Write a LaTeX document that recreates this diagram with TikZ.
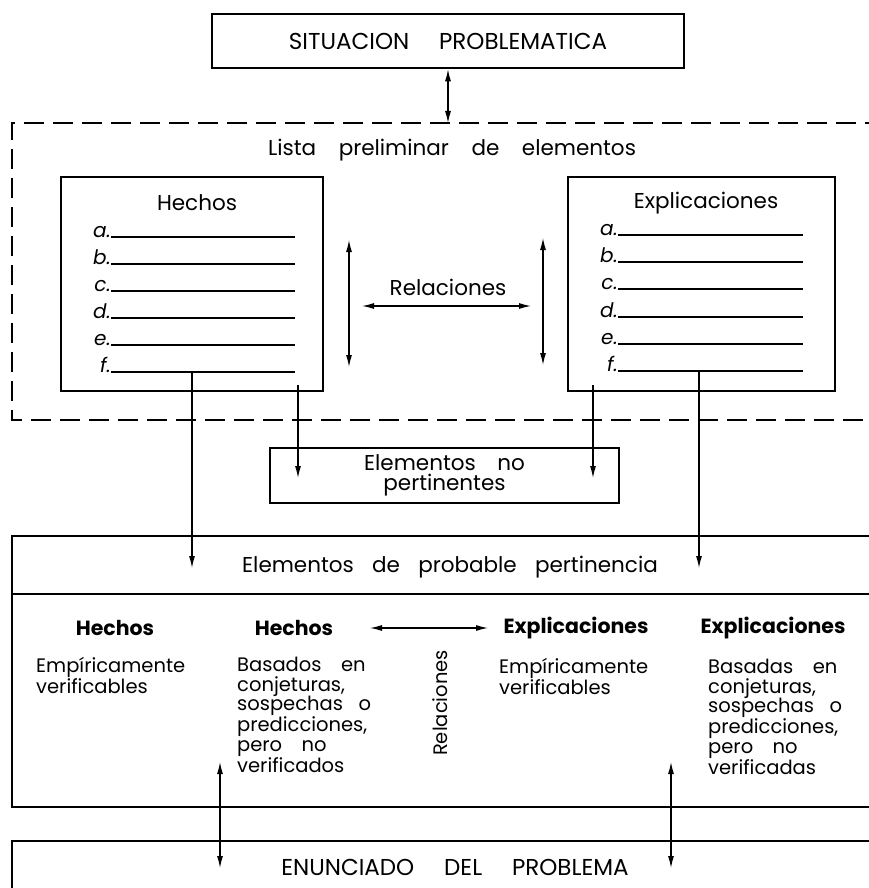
\documentclass[tikz,border=0pt]{standalone}
\usepackage{fontspec}
\setmainfont{Poppins}
\usetikzlibrary{arrows.meta}
\begin{document}
\begin{tikzpicture}[x=1pt,y=-1pt,
  boxline/.style={line width=2.6pt},
  conn/.style={line width=1.2pt,-{Latex[length=12pt,width=6pt]}},
  dconn/.style={line width=1.2pt,{Latex[length=12pt,width=6pt]}-{Latex[length=12pt,width=6pt]}},
  txt/.style={inner sep=0pt,font=\fontsize{19.5}{19.5}\selectfont},
  bigtxt/.style={inner sep=0pt,font=\fontsize{21.5}{20}\selectfont},
  captxt/.style={inner sep=0pt,font=\fontsize{23}{23}\selectfont},
  boldtxt/.style={inner sep=0pt,font=\bfseries\fontsize{20.5}{21}\selectfont},
  lbl/.style={inner sep=0pt,anchor=base east,font=\itshape\fontsize{20}{20}\selectfont},
  ruled/.style={line width=1.1pt},
  dashbox/.style={line width=2.4pt,dash pattern=on 20pt off 9pt}]
\useasboundingbox (0,0) rectangle (869,888);
\clip (0,0) rectangle (869,888);

% top box
\node[draw,boxline,minimum width=472pt,minimum height=54pt,inner sep=0pt,captxt] (sit) at (448,41) {SITUACION\hspace{1.3em}PROBLEMATICA};

% dashed region
\draw[dashbox] (885,123) -- (12,123) -- (12,420) -- (885,420);
\coordinate (dtop) at (448,123);
\draw[dconn] (sit.south) -- (dtop);
\node[bigtxt] (lista) at (452,150) {Lista\hspace{1.05em}preliminar\hspace{1.05em}de\hspace{1.05em}elementos};

% Hechos box
\node[draw,boxline,minimum width=262pt,minimum height=214pt,inner sep=0pt] (hbox) at (192,284) {};
\node[bigtxt] (htitle) at (197,203) {Hechos};
\foreach \l/\y in {a/237,b/264,c/291,d/318,e/345,f/372}{
  \node[lbl] (h\l) at (111,\y) {\l.};
  \draw[ruled] (h\l.base east) -- ++(184,0);
}
% Explicaciones box
\node[draw,boxline,minimum width=267pt,minimum height=214pt,inner sep=0pt] (ebox) at (701.5,284) {};
\node[bigtxt] (etitle) at (706,203) {Explicaciones};
\foreach \l/\y in {a/235,b/262,c/289,d/317,e/344,f/371}{
  \node[lbl] (e\l) at (618,\y) {\l.};
  \draw[ruled] (e\l.base east) -- ++(185,0);
}

% relations between lists
\coordinate (v1t) at (349,240); \coordinate (v1b) at (349,367);
\coordinate (v2t) at (543,238); \coordinate (v2b) at (543,365);
\draw[dconn] (v1t) -- (v1b);
\draw[dconn] (v2t) -- (v2b);
\node[bigtxt] (rel) at (448,287) {Relaciones};
\coordinate (r1) at (362,306); \coordinate (r2) at (531,306);
\draw[dconn] (r1) -- (r2);

% Elementos no pertinentes
\node[draw,boxline,minimum width=349pt,minimum height=55pt,inner sep=0pt,bigtxt,align=center] (nop) at (444.5,475.5) {Elementos\hspace{1em}no\\pertinentes};

% big box
\draw[boxline] (885,536) -- (12,536) -- (12,807) -- (885,807);
\draw[boxline] (12,594) -- (885,594);
\node[bigtxt] (prob) at (450,567) {Elementos\hspace{0.85em}de\hspace{0.85em}probable\hspace{0.85em}pertinencia};

% arrows from lists
\coordinate (hs1) at (192,372); \coordinate (ht1) at (192,568);
\coordinate (hs2) at (298,385); \coordinate (ht2) at (298,478);
\coordinate (es1) at (593,385); \coordinate (et1) at (593,478);
\coordinate (es2) at (699,371); \coordinate (et2) at (699,568);
\draw[conn] (hs1) -- (ht1);
\draw[conn] (hs2) -- (ht2);
\draw[conn] (es1) -- (et1);
\draw[conn] (es2) -- (et2);

% columns
\node[boldtxt] (c1) at (115,628) {Hechos};
\node[boldtxt] (c2) at (294,628) {Hechos};
\node[boldtxt] (c3) at (576,628) {Explicaciones};
\node[boldtxt] (c4) at (773,628) {Explicaciones};
\coordinate (ra) at (370,628); \coordinate (rb) at (488,628);
\draw[dconn] (ra) -- (rb);
\node[txt,anchor=north west,align=left] (t1) at (36,657) {Empíricamente\\verificables};
\node[txt,anchor=north west,align=left] (t2) at (237,657) {Basados\hspace{1em}en\\conjeturas,\\sospechas\hspace{0.8em}o\\predicciones,\\pero\hspace{1em}no\\verificados};
\node[txt,rotate=90,font=\fontsize{19.5}{19}\selectfont] (relv) at (440,703) {Relaciones};
\node[txt,anchor=north west,align=left] (t3) at (499,658) {Empíricamente\\verificables};
\node[txt,anchor=north west,align=left] (t4) at (708,659) {Basadas\hspace{1em}en\\conjeturas,\\sospechas\hspace{0.8em}o\\predicciones,\\pero\hspace{1em}no\\verificadas};

% bottom box
\draw[boxline] (885,841) -- (12,841) -- (12,895);
\node[captxt] (enun) at (455,867) {ENUNCIADO\hspace{1.3em}DEL\hspace{1.3em}PROBLEMA};
\coordinate (b1t) at (220,762); \coordinate (b1b) at (220,868);
\coordinate (b2t) at (671,762); \coordinate (b2b) at (671,868);
\draw[dconn] (b1t) -- (b1b);
\draw[dconn] (b2t) -- (b2b);
\end{tikzpicture}
\end{document}
